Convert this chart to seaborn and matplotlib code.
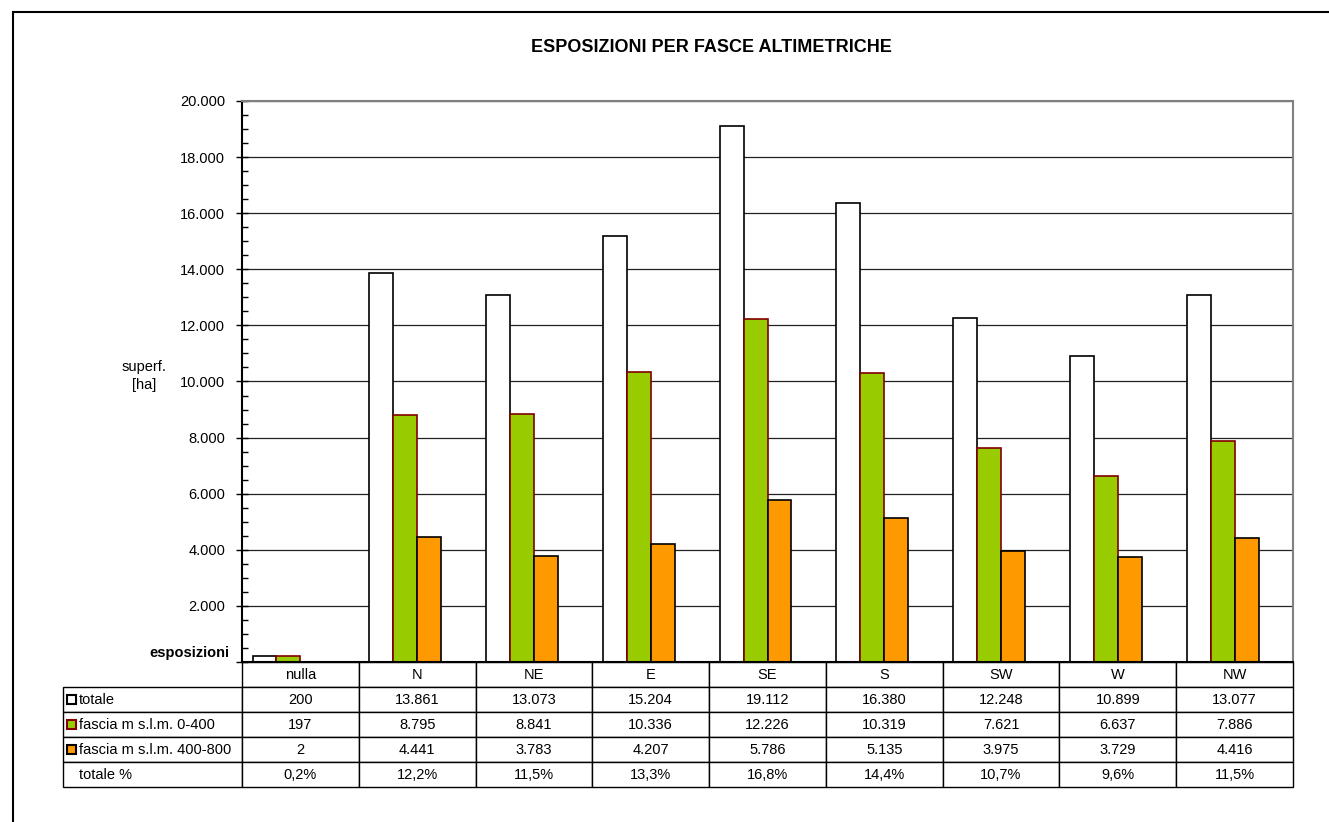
import numpy as np
import pandas as pd
import matplotlib
matplotlib.use("Agg")
import matplotlib.pyplot as plt
import seaborn as sns
from matplotlib.ticker import MultipleLocator, FuncFormatter
from matplotlib.patches import Rectangle
from matplotlib.table import Table

categories = ["nulla", "N", "NE", "E", "SE", "S", "SW", "W", "NW"]
totale = [200, 13861, 13073, 15204, 19112, 16380, 12248, 10899, 13077]
fascia_0_400 = [197, 8795, 8841, 10336, 12226, 10319, 7621, 6637, 7886]
fascia_400_800 = [2, 4441, 3783, 4207, 5786, 5135, 3975, 3729, 4416]
totale_pct = [0.2, 12.2, 11.5, 13.3, 16.8, 14.4, 10.7, 9.6, 11.5]

series_names = ["totale", "fascia m s.l.m. 0-400", "fascia m s.l.m. 400-800", "totale %"]
face_colors = ["#FFFFFF", "#99CC00", "#FF9900", "#FFFFFF"]
edge_colors = ["#000000", "#800000", "#000000", "#000000"]


def fmt_int(v):
    return f"{int(v):,}".replace(",", ".")


def fmt_pct(v):
    return f"{v:.1f}%".replace(".", ",")


df = pd.DataFrame({
    "esposizione": categories * 4,
    "serie": [series_names[0]] * 9 + [series_names[1]] * 9 + [series_names[2]] * 9 + [series_names[3]] * 9,
    "valore": totale + fascia_0_400 + fascia_400_800 + totale_pct,
})

sns.set_style("white")
plt.rcParams["font.family"] = ["Liberation Sans", "DejaVu Sans"]
plt.rcParams["text.color"] = "black"
plt.rcParams["ytick.color"] = "black"
plt.rcParams["xtick.color"] = "black"

fig = plt.figure(figsize=(13.29, 8.22), dpi=100)
ax = fig.add_axes([242 / 1329, 1 - 662 / 822, 1051 / 1329, 561 / 822])

sns.barplot(
    data=df, x="esposizione", y="valore", hue="serie",
    order=categories, hue_order=series_names,
    palette=face_colors, width=0.82, gap=0,
    saturation=1, legend=False, ax=ax,
)

# 4th series (totale %) only lives in the table
for i, cont in enumerate(ax.containers):
    for bar in cont:
        bar.set_edgecolor(edge_colors[i])
        bar.set_linewidth(1.2)
        if i == 3:
            bar.set_visible(False)

ax.set_ylim(0, 20000)
ax.set_xlim(-0.5, len(categories) - 0.5)
ax.yaxis.set_major_locator(MultipleLocator(2000))
ax.yaxis.set_minor_locator(MultipleLocator(500))
ax.yaxis.set_major_formatter(FuncFormatter(lambda v, p: fmt_int(v) if v > 0 else ""))
ax.tick_params(axis="y", which="major", direction="inout", length=8, width=1,
               labelsize=10.5, left=True, pad=8)
ax.tick_params(axis="y", which="minor", direction="in", length=4, width=1, left=True)
ax.set_xticks([])
ax.set_xlabel("")
ax.set_ylabel("")
ax.yaxis.grid(True, which="major", color="#222222", linewidth=0.9)
ax.set_axisbelow(True)

for s in ["left", "bottom"]:
    ax.spines[s].set_color("black")
    ax.spines[s].set_linewidth(1.5)
for s in ["top", "right"]:
    ax.spines[s].set_color("#808080")
    ax.spines[s].set_linewidth(1.5)

# data table under the axis
cell_text = [
    [fmt_int(v) for v in totale],
    [fmt_int(v) for v in fascia_0_400],
    [fmt_int(v) for v in fascia_400_800],
    [fmt_pct(v) for v in totale_pct],
]
row_labels = ["totale", "fascia m s.l.m. 0-400", "fascia m s.l.m. 400-800", "totale %"]
tab_h = 125 / 561
lab_w = 179 / 1051
row_h = tab_h / 5
col_w = 1 / 9

tab = Table(ax, bbox=[-lab_w, -tab_h, 1 + lab_w, tab_h])
c0 = tab.add_cell(0, 0, lab_w, row_h, text="")
c0.visible_edges = ""
for j, cat in enumerate(categories):
    tab.add_cell(0, j + 1, col_w, row_h, text=cat, loc="center")
for i, lab in enumerate(row_labels):
    cell = tab.add_cell(i + 1, 0, lab_w, row_h, text=lab, loc="left")
    cell.PAD = 0.09
    for j, txt in enumerate(cell_text[i]):
        tab.add_cell(i + 1, j + 1, col_w, row_h, text=txt, loc="center")
tab.auto_set_font_size(False)
tab.set_fontsize(10.5)
for cell in tab.get_celld().values():
    cell.set_linewidth(1)
    cell.set_edgecolor("black")
ax.add_table(tab)

# legend keys in row labels
for i in range(3):
    yc = -row_h * (1.5 + i)
    ax.add_patch(Rectangle((-lab_w + 4 / 1051, yc - 4.5 / 561), 9 / 1051, 9 / 561,
                           transform=ax.transAxes, facecolor=face_colors[i],
                           edgecolor=edge_colors[i], linewidth=1.5,
                           clip_on=False, zorder=5))

fig.text(229 / 1329, 1 - 660 / 822, "esposizioni", ha="right", va="bottom",
         fontsize=10.5, fontweight="bold")
fig.text(144 / 1329, 1 - 376 / 822, "superf.\n[ha]", ha="center", va="center",
         fontsize=10.5, linespacing=1.3)
fig.text(711 / 1329, 1 - 48 / 822, "ESPOSIZIONI PER FASCE ALTIMETRICHE",
         ha="center", va="center", fontsize=13, fontweight="bold")

# outer chart frame (only top and left visible)
fig.add_artist(Rectangle((13 / 1329, -0.1), 1.2, 1 - 12 / 822 + 0.1,
                         transform=fig.transFigure, fill=False,
                         edgecolor="black", linewidth=1.5))

fig.savefig("out.png", dpi=100)
